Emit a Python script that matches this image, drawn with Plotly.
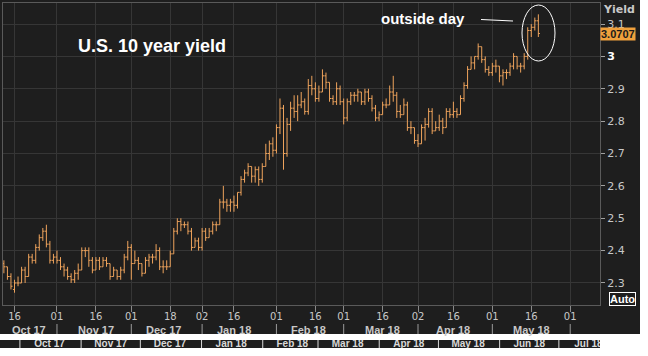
import pandas as pd
import plotly.graph_objects as go

W, H = 648, 356

# ---------------- data ----------------
holidays = ["2017-11-23", "2017-12-25", "2018-01-01", "2018-01-15",
            "2018-02-19", "2018-03-30", "2018-05-28"]

opens = [
    # Oct 17
    2.36, 2.35, 2.32, 2.28, 2.30, 2.30, 2.34, 2.32, 2.38, 2.37, 2.41, 2.44, 2.46, 2.42, 2.37,
    # Nov 17
    2.38, 2.37, 2.35, 2.34, 2.32, 2.31, 2.33, 2.34, 2.40, 2.40, 2.37, 2.34, 2.37, 2.35, 2.37, 2.36, 2.32, 2.34, 2.32, 2.34, 2.38,
    # Dec 17
    2.41, 2.36, 2.37, 2.36, 2.33, 2.37, 2.38, 2.38, 2.40, 2.35, 2.35, 2.35, 2.39, 2.46, 2.49, 2.48, 2.48, 2.46, 2.41, 2.43,
    # Jan 18
    2.41, 2.46, 2.44, 2.46, 2.48, 2.48, 2.55, 2.55, 2.54, 2.55, 2.54, 2.58, 2.62, 2.64, 2.66, 2.63, 2.65, 2.62, 2.66, 2.70, 2.73,
    # Feb 18
    2.71, 2.78, 2.84, 2.70, 2.79, 2.84, 2.83, 2.85, 2.86, 2.83, 2.91, 2.90, 2.87, 2.89, 2.94, 2.92, 2.87, 2.86, 2.90,
    # Mar 18
    2.86, 2.81, 2.86, 2.88, 2.88, 2.89, 2.86, 2.89, 2.87, 2.84, 2.81, 2.82, 2.85, 2.85, 2.89, 2.88, 2.83, 2.82, 2.85, 2.78, 2.78,
    # Apr 18
    2.74, 2.73, 2.78, 2.79, 2.83, 2.77, 2.78, 2.80, 2.78, 2.83, 2.82, 2.83, 2.82, 2.87, 2.91, 2.96, 2.98, 3.00, 3.03, 2.99, 2.96,
    # May 18
    2.95, 2.97, 2.97, 2.94, 2.95, 2.95, 2.97, 3.00, 2.97, 2.97, 3.00, 3.08, 3.09, 3.11,
]
highs = [
    2.37, 2.35, 2.33, 2.31, 2.32, 2.35, 2.35, 2.39, 2.39, 2.42, 2.45, 2.47, 2.48, 2.43, 2.39,
    2.40, 2.38, 2.36, 2.35, 2.33, 2.34, 2.36, 2.41, 2.41, 2.41, 2.38, 2.38, 2.38, 2.38, 2.38, 2.36, 2.35, 2.34, 2.35, 2.39, 2.43,
    2.42, 2.40, 2.38, 2.36, 2.38, 2.39, 2.39, 2.42, 2.41, 2.37, 2.37, 2.40, 2.47, 2.50, 2.50, 2.49, 2.49, 2.47, 2.44, 2.44,
    2.47, 2.47, 2.47, 2.49, 2.49, 2.56, 2.60, 2.56, 2.56, 2.57, 2.58, 2.63, 2.65, 2.67, 2.66, 2.66, 2.66, 2.67, 2.73, 2.74, 2.75,
    2.79, 2.87, 2.85, 2.81, 2.86, 2.88, 2.88, 2.89, 2.87, 2.93, 2.94, 2.92, 2.91, 2.96, 2.95, 2.92, 2.88, 2.92, 2.91,
    2.87, 2.87, 2.89, 2.89, 2.90, 2.89, 2.90, 2.90, 2.88, 2.85, 2.83, 2.86, 2.87, 2.91, 2.94, 2.89, 2.85, 2.87, 2.86, 2.80, 2.78,
    2.76, 2.79, 2.81, 2.84, 2.84, 2.80, 2.82, 2.81, 2.84, 2.84, 2.86, 2.84, 2.88, 2.92, 2.97, 3.00, 3.00, 3.04, 3.03, 3.00, 2.97,
    2.98, 2.99, 2.97, 2.96, 2.96, 2.98, 3.01, 3.00, 2.98, 3.01, 3.09, 3.10, 3.12, 3.13,
]
lows = [
    2.33, 2.31, 2.28, 2.27, 2.29, 2.30, 2.30, 2.32, 2.36, 2.36, 2.40, 2.43, 2.41, 2.36, 2.36,
    2.36, 2.34, 2.32, 2.31, 2.30, 2.30, 2.31, 2.34, 2.38, 2.35, 2.33, 2.34, 2.34, 2.35, 2.35, 2.31, 2.32, 2.31, 2.31, 2.33, 2.37,
    2.31, 2.36, 2.34, 2.32, 2.33, 2.35, 2.36, 2.37, 2.34, 2.33, 2.34, 2.35, 2.39, 2.45, 2.46, 2.47, 2.45, 2.40, 2.41, 2.40,
    2.40, 2.43, 2.44, 2.45, 2.46, 2.48, 2.53, 2.52, 2.52, 2.52, 2.53, 2.57, 2.61, 2.63, 2.61, 2.61, 2.60, 2.61, 2.66, 2.68, 2.69,
    2.70, 2.76, 2.65, 2.69, 2.77, 2.81, 2.80, 2.84, 2.82, 2.82, 2.88, 2.86, 2.86, 2.89, 2.90, 2.86, 2.85, 2.85, 2.85,
    2.79, 2.80, 2.85, 2.86, 2.86, 2.85, 2.85, 2.86, 2.83, 2.80, 2.80, 2.82, 2.84, 2.85, 2.86, 2.81, 2.81, 2.82, 2.77, 2.76, 2.73,
    2.72, 2.73, 2.74, 2.78, 2.76, 2.77, 2.77, 2.76, 2.78, 2.81, 2.81, 2.81, 2.82, 2.86, 2.90, 2.96, 2.96, 2.99, 2.98, 2.95, 2.94,
    2.94, 2.95, 2.92, 2.91, 2.93, 2.94, 2.96, 2.96, 2.95, 2.96, 2.99, 3.06, 3.08, 3.06,
]
closes = [
    2.35, 2.32, 2.29, 2.30, 2.30, 2.34, 2.32, 2.38, 2.37, 2.41, 2.44, 2.46, 2.42, 2.37, 2.38,
    2.37, 2.35, 2.34, 2.32, 2.31, 2.33, 2.34, 2.40, 2.40, 2.37, 2.34, 2.37, 2.35, 2.37, 2.36, 2.32, 2.34, 2.32, 2.34, 2.38, 2.41,
    2.36, 2.37, 2.36, 2.33, 2.37, 2.38, 2.38, 2.40, 2.35, 2.35, 2.35, 2.39, 2.46, 2.49, 2.48, 2.48, 2.46, 2.41, 2.43, 2.41,
    2.46, 2.44, 2.46, 2.48, 2.48, 2.55, 2.55, 2.54, 2.55, 2.54, 2.58, 2.62, 2.64, 2.66, 2.63, 2.65, 2.62, 2.66, 2.70, 2.73, 2.71,
    2.78, 2.84, 2.70, 2.79, 2.84, 2.83, 2.85, 2.86, 2.83, 2.91, 2.90, 2.87, 2.89, 2.94, 2.92, 2.87, 2.86, 2.90, 2.86,
    2.81, 2.86, 2.88, 2.88, 2.89, 2.86, 2.89, 2.87, 2.84, 2.81, 2.82, 2.85, 2.85, 2.89, 2.88, 2.83, 2.82, 2.85, 2.78, 2.78, 2.74,
    2.73, 2.78, 2.79, 2.83, 2.77, 2.78, 2.80, 2.78, 2.83, 2.82, 2.83, 2.82, 2.87, 2.91, 2.96, 2.98, 3.00, 3.03, 2.99, 2.96, 2.95,
    2.97, 2.97, 2.94, 2.95, 2.95, 2.97, 3.00, 2.97, 2.97, 3.00, 3.08, 3.09, 3.11, 3.0707,
]
last_value = 3.0707

day_tick_dates = ["2017-10-16", "2017-11-01", "2017-11-16", "2017-12-01", "2017-12-18",
                  "2018-01-02", "2018-01-16", "2018-02-01", "2018-02-16", "2018-03-01",
                  "2018-03-16", "2018-04-02", "2018-04-16", "2018-05-01", "2018-05-16",
                  "2018-06-01"]
day_tick_text = ["16", "01", "16", "01", "18", "02", "16", "01", "16", "01",
                 "16", "02", "16", "01", "16", "01"]
month_label_dates = ["2017-10-20", "2017-11-16", "2017-12-14", "2018-01-16",
                     "2018-02-14", "2018-03-16", "2018-04-16", "2018-05-16"]
month_labels = ["Oct 17", "Nov 17", "Dec 17", "Jan 18", "Feb 18", "Mar 18", "Apr 18", "May 18"]
month_start_dates = ["2017-11-01", "2017-12-01", "2018-01-02", "2018-02-01",
                     "2018-03-01", "2018-04-02", "2018-05-01", "2018-06-01"]
y_ticks = [2.3, 2.4, 2.5, 2.6, 2.7, 2.8, 2.9, 3.0, 3.1]
y_tick_text = ["2.3", "2.4", "2.5", "2.6", "2.7", "2.8", "2.9",
               "<b><span style='color:#ffffff'>3</span></b>", "3.1"]

nav_months = ["2017-10-01", "2017-11-01", "2017-12-01", "2018-01-01", "2018-02-01",
              "2018-03-01", "2018-04-01", "2018-05-01", "2018-06-01", "2018-07-01"]
nav_labels = ["Oct 17", "Nov 17", "Dec 17", "Jan 18", "Feb 18",
              "Mar 18", "Apr 18", "May 18", "Jun 18", "Jul 18"]

# ---------------- helpers ----------------
def px(x):
    return x / W

def py(y):
    return (H - y) / H

bdays = [d for d in pd.bdate_range("2017-10-11", "2018-05-18")
         if d.strftime("%Y-%m-%d") not in holidays]
n = min(len(bdays), len(opens), len(highs), len(lows), len(closes))
dates = bdays[:n]

BG = "#1e1e1e"
GRID = "#363636"
BAR = "#eea35c"
TXT = "#c8c8c8"

fig = go.Figure()
fig.add_trace(go.Ohlc(
    x=dates, open=opens[:n], high=highs[:n], low=lows[:n], close=closes[:n],
    increasing=dict(line=dict(color=BAR, width=1)),
    decreasing=dict(line=dict(color=BAR, width=1)),
    tickwidth=0.45, hoverinfo="skip", showlegend=False,
    xaxis="x", yaxis="y",
))

# navigator strip (bottom)
nav_mid = [pd.Timestamp(m) + pd.Timedelta(days=15) for m in nav_months]
fig.add_trace(go.Scatter(
    x=nav_mid, y=[3.4] * len(nav_mid), mode="text", text=nav_labels,
    textfont=dict(family="Liberation Sans", size=10, color="#d8d8d8", weight="bold"),
    cliponaxis=True, hoverinfo="skip", showlegend=False, xaxis="x2", yaxis="y2",
))
sep_x, sep_y = [], []
for m in nav_months:
    sep_x += [m, m, None]
    sep_y += [0, 10, None]
fig.add_trace(go.Scatter(
    x=sep_x, y=sep_y, mode="lines", line=dict(color="#d8d8d8", width=1),
    hoverinfo="skip", showlegend=False, xaxis="x2", yaxis="y2",
))

fig.update_layout(
    width=W, height=H,
    margin=dict(l=0, r=0, t=0, b=0),
    paper_bgcolor=BG, plot_bgcolor=BG,
    font=dict(family="DejaVu Sans", size=11, color=TXT),
    showlegend=False,
    xaxis=dict(
        type="date", domain=[px(3), px(600)], anchor="y",
        range=["2017-10-10 18:00", "2018-06-13 10:00"],
        rangebreaks=[dict(bounds=["sat", "mon"]), dict(values=holidays)],
        rangeslider=dict(visible=False),
        tickmode="array", tickvals=day_tick_dates, ticktext=day_tick_text,
        ticks="outside", ticklen=6, tickcolor="#8a8a8a", tickwidth=1,
        ticklabelstandoff=-4,
        tickfont=dict(family="DejaVu Sans", size=10, color=TXT),
        showgrid=True, gridcolor=GRID, gridwidth=1,
        showline=True, linecolor="#5a5a5a", linewidth=1, mirror=True,
        zeroline=False, fixedrange=True,
    ),
    yaxis=dict(
        domain=[py(305), py(3)], anchor="x", side="right",
        range=[2.232, 3.165],
        tickmode="array", tickvals=y_ticks, ticktext=y_tick_text,
        ticks="outside", ticklen=4, tickcolor="#a0a0a0",
        tickfont=dict(family="DejaVu Sans", size=11, color=TXT),
        showgrid=True, gridcolor=GRID, gridwidth=1,
        showline=True, linecolor="#5a5a5a", linewidth=1, mirror=True,
        zeroline=False, fixedrange=True,
    ),
    xaxis2=dict(
        type="date", domain=[0, px(600)], anchor="y2",
        range=["2017-09-20 22:00", "2018-07-21 20:00"],
        showgrid=False, showticklabels=False, ticks="", zeroline=False,
        showline=False, fixedrange=True,
    ),
    yaxis2=dict(
        domain=[py(348), py(340)], anchor="x2", range=[0, 8],
        showgrid=False, showticklabels=False, ticks="", zeroline=False,
        showline=False, fixedrange=True,
    ),
)

shapes = [
    # white bands at the bottom and right edge
    dict(type="rect", xref="paper", yref="paper", x0=0, x1=1, y0=py(340), y1=py(334),
         fillcolor="white", line=dict(width=0), layer="above"),
    dict(type="rect", xref="paper", yref="paper", x0=0, x1=1, y0=0, y1=py(348),
         fillcolor="white", line=dict(width=0), layer="above"),
    dict(type="rect", xref="paper", yref="paper", x0=px(600), x1=1, y0=py(348), y1=py(340),
         fillcolor="white", line=dict(width=0), layer="above"),
    dict(type="rect", xref="paper", yref="paper", x0=px(640), x1=1, y0=0, y1=1,
         fillcolor="white", line=dict(width=0), layer="above"),
    # outside-day ellipse and pointer
    dict(type="circle", xref="paper", yref="paper", x0=px(522), x1=px(555), y0=py(61), y1=py(5),
         line=dict(color="white", width=1)),
    dict(type="line", xref="paper", yref="paper", x0=px(481), x1=px(513), y0=py(19.5), y1=py(21),
         line=dict(color="white", width=1)),
]
for d in month_start_dates:
    shapes.append(dict(type="line", xref="x", yref="paper", x0=d, x1=d, y0=py(334), y1=py(324),
                       line=dict(color="#9a9a9a", width=1)))
fig.update_layout(shapes=shapes)

annotations = [
    dict(text="U.S. 10 year yield", xref="paper", yref="paper", x=px(152), y=py(46),
         showarrow=False, xanchor="center", yanchor="middle",
         font=dict(family="Liberation Sans", size=18, color="white", weight="bold")),
    dict(text="outside day", xref="paper", yref="paper", x=px(423), y=py(19),
         showarrow=False, xanchor="center", yanchor="middle",
         font=dict(family="Liberation Sans", size=15, color="white", weight="bold")),
    dict(text="Yield", xref="paper", yref="paper", x=px(619), y=py(10),
         showarrow=False, xanchor="center", yanchor="middle",
         font=dict(family="DejaVu Sans", size=11, color=TXT, weight="bold")),
    dict(text=f"{last_value:.4f}", xref="paper", yref="y", x=px(600), y=last_value,
         showarrow=False, xanchor="left", yanchor="middle", bgcolor="#f0a03c",
         borderpad=0, font=dict(family="Liberation Sans", size=11, color="#1a1a1a", weight="bold")),
    dict(text="Auto", xref="paper", yref="paper", x=px(622), y=py(298.5),
         showarrow=False, xanchor="center", yanchor="middle", bordercolor="white",
         borderwidth=1, borderpad=0,
         font=dict(family="Liberation Sans", size=11, color="white", weight="bold")),
]
for d, t in zip(month_label_dates, month_labels):
    annotations.append(dict(text=t, xref="x", yref="paper", x=d, y=py(330),
                            showarrow=False, xanchor="center", yanchor="middle",
                            font=dict(family="Liberation Sans", size=11, color=TXT, weight="bold")))
fig.update_layout(annotations=annotations)

fig.write_html("out.html", config={"displayModeBar": False},
               post_script="document.body.style.margin='0px';")
